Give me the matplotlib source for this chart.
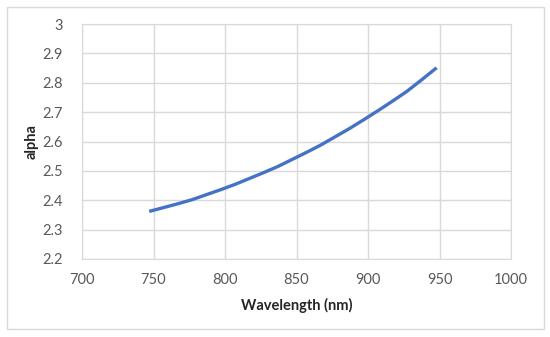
import matplotlib.pyplot as plt
from matplotlib.patches import Rectangle

# values
wavelength = [747, 757, 767, 777, 787, 797, 807, 817, 827, 837, 847,
              857, 867, 877, 887, 897, 907, 917, 927, 937, 948]
alpha = [2.362, 2.375, 2.388, 2.402, 2.419, 2.436, 2.454, 2.474, 2.494, 2.515, 2.539,
         2.563, 2.588, 2.616, 2.644, 2.674, 2.705, 2.737, 2.770, 2.808, 2.851]

x_ticks = [700, 750, 800, 850, 900, 950, 1000]
y_ticks = [2.2, 2.3, 2.4, 2.5, 2.6, 2.7, 2.8, 2.9, 3.0]
y_labels = ["2.2", "2.3", "2.4", "2.5", "2.6", "2.7", "2.8", "2.9", "3"]

plt.rcParams["font.family"] = ["Lato", "DejaVu Sans"]

fig = plt.figure(figsize=(5.5, 3.37), dpi=100)
fig.patches.append(Rectangle((6.5 / 550, 8 / 337), 537 / 550, 322 / 337,
                             transform=fig.transFigure, fill=False,
                             edgecolor="#d9d9d9", linewidth=1))

ax = fig.add_axes([82 / 550, 78 / 337, 429 / 550, 235 / 337])
ax.plot(wavelength, alpha, color="#4472c4", linewidth=2.4, solid_capstyle="butt")

ax.set_xlim(700, 1000)
ax.set_ylim(2.2, 3.0)
ax.set_xticks(x_ticks)
ax.set_yticks(y_ticks)
ax.set_yticklabels(y_labels)
ax.grid(True, color="#d9d9d9", linewidth=1)
ax.set_axisbelow(True)
for s in ax.spines.values():
    s.set_color("#d9d9d9")
ax.tick_params(length=0, labelsize=10.5, labelcolor="#595959")
ax.tick_params(axis="x", pad=10)
ax.tick_params(axis="y", pad=14)

ax.set_xlabel("Wavelength (nm)", fontsize=10.5, fontweight="bold", color="#262626", labelpad=8)
ax.set_ylabel("alpha", fontsize=10.5, fontweight="bold", color="#262626")
ax.yaxis.set_label_coords(-0.10, 0.5)

fig.savefig("out.png", dpi=100)
